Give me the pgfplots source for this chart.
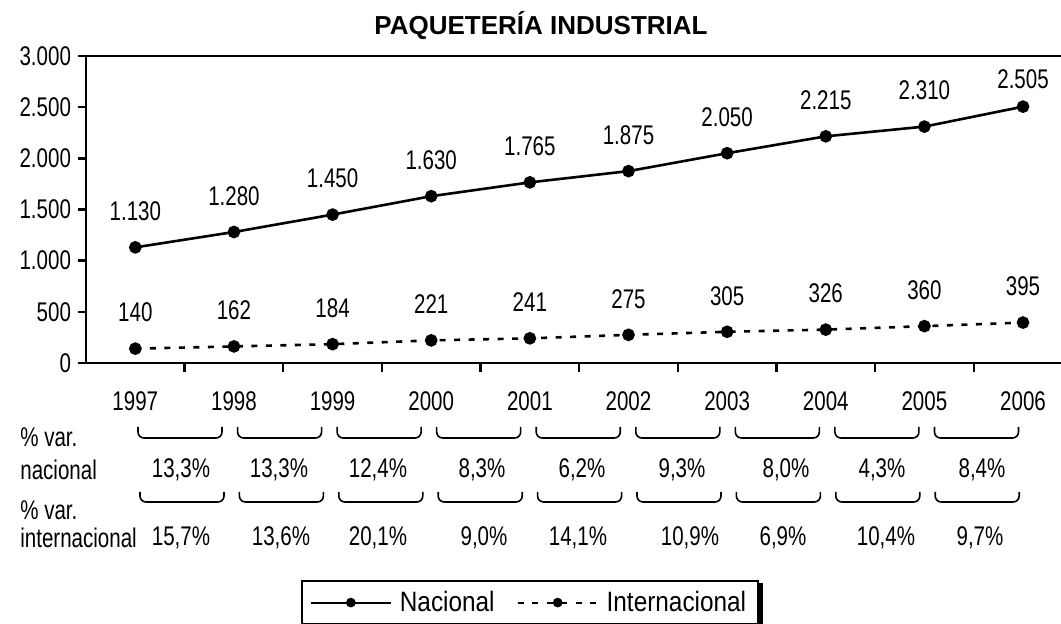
\documentclass[border=0pt]{standalone}
\usepackage{fontspec}
\setmainfont{Liberation Sans}[FakeStretch=0.76]
\newfontfamily\titlefont{Liberation Sans}
\newfontfamily\legfont{Liberation Sans}[FakeStretch=0.87]
\usepackage{pgfplots}
\pgfplotsset{compat=1.18}
\usepackage{pgfplotstable}
\pgfplotsset{/pgf/number format/assume math mode=true}
\newcommand{\lf}{\fontsize{13.5}{16}\selectfont}

\pgfplotstableread{
x y dy
0 1130 18
1 1280 18
2 1450 18
3 1630 18
4 1765 18
5 1875 18
6 2050 18
7 2215 18
8 2310 18
9 2505 13.5
}\nac
\pgfplotstableread{
x y dy
0 140 18
1 162 18
2 184 18
3 221 18
4 241 18
5 275 18
6 305 18
7 326 18
8 360 18
9 395 18
}\inter

\begin{document}
\begin{tikzpicture}
\begin{axis}[
  at={(43pt,130.5pt)}, anchor=south west,
  scale only axis, width=487.5pt, height=153.5pt,
  xmin=-0.5, xmax=9.385, ymin=0, ymax=3000,
  axis x line*=bottom, axis y line*=left,
  axis line style={line width=1.4pt},
  tick align=outside,
  xtick={0,...,9}, xticklabels={1997,1998,1999,2000,2001,2002,2003,2004,2005,2006},
  major x tick style={draw=none},
  minor xtick={0.5,1.5,...,8.5},
  minor tick length=4.5pt, major tick length=4pt,
  every tick/.append style={black, line width=1.2pt},
  ytick={0,500,...,3000},
  scaled y ticks=false,
  yticklabel style={/pgf/number format/fixed, /pgf/number format/1000 sep={.}},
  tick label style={font=\lf},
  xticklabel style={yshift=-7pt},
  clip=false,
  legend columns=2,
  legend image code/.code={\draw[mark repeat=2,mark phase=2,#1,line width=1pt,mark size=1.9pt] plot coordinates {(0pt,0pt) (20pt,0pt) (40pt,0pt)};},
  legend style={name=leg, at={(0.2205,-0.707)}, anchor=north west, draw=black, line width=0.9pt,
    font=\legfont\fontsize{14}{17}\selectfont, inner xsep=4pt, inner ysep=3pt,
    /tikz/every odd column/.append style={column sep=2pt},
    /tikz/every even column/.append style={column sep=9pt}},
]
\addplot[black, line width=1.3pt, mark=*, mark size=2.5pt, mark options={solid},
  point meta=\thisrow{y},
  visualization depends on={\thisrow{dy}\as\dy},
  nodes near coords={\pgfmathprintnumber[fixed,precision=0,1000 sep={.}]{\pgfplotspointmeta}},
  nodes near coords style={font=\lf, anchor=center, yshift=\dy pt}]
  table[x=x,y=y] {\nac};
\addlegendentry{Nacional}
\addplot[black, line width=1.3pt, dash pattern=on 3pt off 4.25pt, mark=*, mark size=2.5pt, mark options={solid},
  point meta=\thisrow{y},
  visualization depends on={\thisrow{dy}\as\dy},
  nodes near coords={\pgfmathprintnumber[fixed,precision=0,1000 sep={.}]{\pgfplotspointmeta}},
  nodes near coords style={font=\lf, anchor=center, yshift=\dy pt}]
  table[x=x,y=y] {\inter};
\addlegendentry{Internacional}
\draw[line width=1.4pt] (rel axis cs:0,1) -- (rel axis cs:1,1);
\end{axis}
\draw[line width=2pt] ([xshift=1.2pt,yshift=-1.5pt]leg.north east) -- ([xshift=1.2pt,yshift=-1.5pt]leg.south east);
\begin{scope}[x=0.5pt,y=-0.5pt,yshift=312pt]
  \node at (541,26) {\titlefont\bfseries\fontsize{13}{15}\selectfont PAQUETERÍA INDUSTRIAL};
  \node[anchor=west, font=\lf, inner sep=0pt] at (20,437) {\% var.};
  \node[anchor=west, font=\lf, inner sep=0pt] at (20,470) {nacional};
  \node[anchor=west, font=\lf, inner sep=0pt] at (20,510) {\% var.};
  \node[anchor=west, font=\lf, inner sep=0pt] at (20,538) {internacional};
  \foreach \i in {0,...,8} {
    \pgfmathsetmacro\c{180+99.56*\i}
    \draw[line width=0.8pt, rounded corners=3pt] (\c-42,427) -- (\c-42,438) -- (\c+42,438) -- (\c+42,427);
    \pgfmathsetmacro\d{182+99.4*\i}
    \draw[line width=0.8pt, rounded corners=3pt] (\d-42,492) -- (\d-42,502) -- (\d+42,502) -- (\d+42,492);
  }
  \foreach \xx/\t in {181/{13,3\%},279/{13,3\%},378/{12,4\%},482/{8,3\%},582/{6,2\%},682/{9,3\%},786/{8,0\%},882/{4,3\%},982/{8,4\%}}
    \node[font=\lf] at (\xx,470) {\t};
  \foreach \xx/\t in {181/{15,7\%},281/{13,6\%},378/{20,1\%},484/{9,0\%},578/{14,1\%},690/{10,9\%},783/{6,9\%},886/{10,4\%},980/{9,7\%}}
    \node[font=\lf] at (\xx,538) {\t};
\end{scope}
\pgfresetboundingbox
\useasboundingbox (0,0) rectangle (530.5pt,312pt);
\end{tikzpicture}
\end{document}
